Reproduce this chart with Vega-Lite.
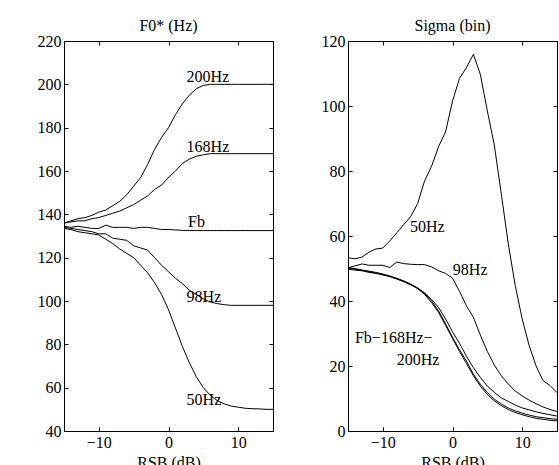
{
  "$schema": "https://vega.github.io/schema/vega-lite/v6.json",
  "background": "white",
  "padding": {"left": 36, "top": 17, "right": 0, "bottom": 0},
  "config": {
    "font": "Liberation Serif",
    "view": {"stroke": "black", "strokeWidth": 1},
    "axis": {"labelFont": "Liberation Serif", "labelFontSize": 16, "labelColor": "black", "titleFont": "Liberation Serif", "titleFontSize": 16, "titleFontWeight": "normal", "titleColor": "black", "domainColor": "black", "tickColor": "black", "grid": false, "tickSize": -4, "labelPadding": 7, "titlePadding": 4},
    "title": {"font": "Liberation Serif", "fontSize": 16, "fontWeight": "normal", "color": "black", "offset": -1},
    "concat": {"spacing": 44}
  },
  "datasets": {
    "f0": [
      {"s":"200Hz","x":-15,"y":136},{"s":"200Hz","x":-14,"y":137},{"s":"200Hz","x":-13,"y":138},{"s":"200Hz","x":-12,"y":138.5},{"s":"200Hz","x":-11,"y":139.5},{"s":"200Hz","x":-10,"y":141},{"s":"200Hz","x":-9,"y":142},{"s":"200Hz","x":-8,"y":144},{"s":"200Hz","x":-7,"y":146},{"s":"200Hz","x":-6,"y":149},{"s":"200Hz","x":-5,"y":153},{"s":"200Hz","x":-4,"y":157},{"s":"200Hz","x":-3,"y":163},{"s":"200Hz","x":-2,"y":170},{"s":"200Hz","x":-1,"y":175.5},{"s":"200Hz","x":0,"y":180},{"s":"200Hz","x":1,"y":186},{"s":"200Hz","x":2,"y":191},{"s":"200Hz","x":3,"y":195},{"s":"200Hz","x":4,"y":198},{"s":"200Hz","x":5,"y":199.5},{"s":"200Hz","x":6,"y":200},{"s":"200Hz","x":7,"y":200},{"s":"200Hz","x":8,"y":200},{"s":"200Hz","x":9,"y":200},{"s":"200Hz","x":10,"y":200},{"s":"200Hz","x":11,"y":200},{"s":"200Hz","x":12,"y":200},{"s":"200Hz","x":13,"y":200},{"s":"200Hz","x":14,"y":200},{"s":"200Hz","x":15,"y":200},
      {"s":"168Hz","x":-15,"y":136},{"s":"168Hz","x":-14,"y":136.5},{"s":"168Hz","x":-13,"y":137},{"s":"168Hz","x":-12,"y":137},{"s":"168Hz","x":-11,"y":138},{"s":"168Hz","x":-10,"y":138.5},{"s":"168Hz","x":-9,"y":139.5},{"s":"168Hz","x":-8,"y":140.5},{"s":"168Hz","x":-7,"y":141.5},{"s":"168Hz","x":-6,"y":143},{"s":"168Hz","x":-5,"y":144.5},{"s":"168Hz","x":-4,"y":146.5},{"s":"168Hz","x":-3,"y":148.5},{"s":"168Hz","x":-2,"y":151.5},{"s":"168Hz","x":-1,"y":153.5},{"s":"168Hz","x":0,"y":157},{"s":"168Hz","x":1,"y":160},{"s":"168Hz","x":2,"y":163.5},{"s":"168Hz","x":3,"y":165.5},{"s":"168Hz","x":4,"y":166.8},{"s":"168Hz","x":5,"y":167.5},{"s":"168Hz","x":6,"y":168},{"s":"168Hz","x":7,"y":168},{"s":"168Hz","x":8,"y":168},{"s":"168Hz","x":9,"y":168},{"s":"168Hz","x":10,"y":168},{"s":"168Hz","x":11,"y":168},{"s":"168Hz","x":12,"y":168},{"s":"168Hz","x":13,"y":168},{"s":"168Hz","x":14,"y":168},{"s":"168Hz","x":15,"y":168},
      {"s":"Fb","x":-15,"y":134.5},{"s":"Fb","x":-14,"y":134},{"s":"Fb","x":-13,"y":134.5},{"s":"Fb","x":-12,"y":134},{"s":"Fb","x":-11,"y":133.5},{"s":"Fb","x":-10,"y":133.5},{"s":"Fb","x":-9,"y":135},{"s":"Fb","x":-8,"y":134},{"s":"Fb","x":-7,"y":134},{"s":"Fb","x":-6,"y":134},{"s":"Fb","x":-5,"y":133.5},{"s":"Fb","x":-4,"y":134},{"s":"Fb","x":-3,"y":134},{"s":"Fb","x":-2,"y":133.5},{"s":"Fb","x":-1,"y":133},{"s":"Fb","x":0,"y":133},{"s":"Fb","x":1,"y":132.8},{"s":"Fb","x":2,"y":132.6},{"s":"Fb","x":3,"y":132.5},{"s":"Fb","x":4,"y":132.5},{"s":"Fb","x":5,"y":132.5},{"s":"Fb","x":6,"y":132.5},{"s":"Fb","x":7,"y":132.5},{"s":"Fb","x":8,"y":132.5},{"s":"Fb","x":9,"y":132.5},{"s":"Fb","x":10,"y":132.5},{"s":"Fb","x":11,"y":132.5},{"s":"Fb","x":12,"y":132.5},{"s":"Fb","x":13,"y":132.5},{"s":"Fb","x":14,"y":132.5},{"s":"Fb","x":15,"y":132.5},
      {"s":"98Hz","x":-15,"y":134},{"s":"98Hz","x":-14,"y":133.5},{"s":"98Hz","x":-13,"y":133},{"s":"98Hz","x":-12,"y":132.5},{"s":"98Hz","x":-11,"y":132},{"s":"98Hz","x":-10,"y":131},{"s":"98Hz","x":-9,"y":131},{"s":"98Hz","x":-8,"y":129},{"s":"98Hz","x":-7,"y":128.5},{"s":"98Hz","x":-6,"y":128},{"s":"98Hz","x":-5,"y":125.5},{"s":"98Hz","x":-4,"y":124.5},{"s":"98Hz","x":-3,"y":123.5},{"s":"98Hz","x":-2,"y":120},{"s":"98Hz","x":-1,"y":116.5},{"s":"98Hz","x":0,"y":113.5},{"s":"98Hz","x":1,"y":110.5},{"s":"98Hz","x":2,"y":108},{"s":"98Hz","x":3,"y":105},{"s":"98Hz","x":4,"y":103},{"s":"98Hz","x":5,"y":101},{"s":"98Hz","x":6,"y":99.5},{"s":"98Hz","x":7,"y":98.8},{"s":"98Hz","x":8,"y":98.3},{"s":"98Hz","x":9,"y":98},{"s":"98Hz","x":10,"y":98},{"s":"98Hz","x":11,"y":98},{"s":"98Hz","x":12,"y":98},{"s":"98Hz","x":13,"y":98},{"s":"98Hz","x":14,"y":98},{"s":"98Hz","x":15,"y":98},
      {"s":"50Hz","x":-15,"y":133.5},{"s":"50Hz","x":-14,"y":133},{"s":"50Hz","x":-13,"y":132},{"s":"50Hz","x":-12,"y":131.5},{"s":"50Hz","x":-11,"y":131},{"s":"50Hz","x":-10,"y":130.5},{"s":"50Hz","x":-9,"y":128.5},{"s":"50Hz","x":-8,"y":126.5},{"s":"50Hz","x":-7,"y":124},{"s":"50Hz","x":-6,"y":122},{"s":"50Hz","x":-5,"y":120},{"s":"50Hz","x":-4,"y":116.5},{"s":"50Hz","x":-3,"y":113},{"s":"50Hz","x":-2,"y":108.5},{"s":"50Hz","x":-1,"y":103},{"s":"50Hz","x":0,"y":96},{"s":"50Hz","x":1,"y":87.5},{"s":"50Hz","x":2,"y":79},{"s":"50Hz","x":3,"y":71.5},{"s":"50Hz","x":4,"y":65},{"s":"50Hz","x":5,"y":60},{"s":"50Hz","x":6,"y":56.5},{"s":"50Hz","x":7,"y":54},{"s":"50Hz","x":8,"y":52.5},{"s":"50Hz","x":9,"y":51.5},{"s":"50Hz","x":10,"y":51},{"s":"50Hz","x":11,"y":50.5},{"s":"50Hz","x":12,"y":50.3},{"s":"50Hz","x":13,"y":50.2},{"s":"50Hz","x":14,"y":50},{"s":"50Hz","x":15,"y":50}
    ],
    "sig": [
      {"s":"50Hz","x":-15,"y":53.3},{"s":"50Hz","x":-14,"y":53},{"s":"50Hz","x":-13,"y":53.5},{"s":"50Hz","x":-12,"y":55},{"s":"50Hz","x":-11,"y":56},{"s":"50Hz","x":-10,"y":56.3},{"s":"50Hz","x":-9,"y":58.5},{"s":"50Hz","x":-8,"y":61},{"s":"50Hz","x":-7,"y":63.5},{"s":"50Hz","x":-6,"y":66},{"s":"50Hz","x":-5,"y":70},{"s":"50Hz","x":-4,"y":77},{"s":"50Hz","x":-3,"y":81.5},{"s":"50Hz","x":-2,"y":87.5},{"s":"50Hz","x":-1,"y":92},{"s":"50Hz","x":0,"y":101.5},{"s":"50Hz","x":1,"y":108.5},{"s":"50Hz","x":2,"y":111.8},{"s":"50Hz","x":3,"y":115.9},{"s":"50Hz","x":4,"y":109.7},{"s":"50Hz","x":5,"y":98.5},{"s":"50Hz","x":6,"y":88},{"s":"50Hz","x":7,"y":73},{"s":"50Hz","x":8,"y":57.7},{"s":"50Hz","x":9,"y":44.8},{"s":"50Hz","x":10,"y":34.5},{"s":"50Hz","x":11,"y":26.3},{"s":"50Hz","x":12,"y":20},{"s":"50Hz","x":13,"y":15.5},{"s":"50Hz","x":14,"y":14},{"s":"50Hz","x":15,"y":11.8},
      {"s":"98Hz","x":-15,"y":50.2},{"s":"98Hz","x":-14,"y":50.8},{"s":"98Hz","x":-13,"y":51.4},{"s":"98Hz","x":-12,"y":51},{"s":"98Hz","x":-11,"y":51},{"s":"98Hz","x":-10,"y":51},{"s":"98Hz","x":-9,"y":50.3},{"s":"98Hz","x":-8,"y":52},{"s":"98Hz","x":-7,"y":51.5},{"s":"98Hz","x":-6,"y":51.3},{"s":"98Hz","x":-5,"y":51.2},{"s":"98Hz","x":-4,"y":51.2},{"s":"98Hz","x":-3,"y":50.5},{"s":"98Hz","x":-2,"y":49.3},{"s":"98Hz","x":-1,"y":48.5},{"s":"98Hz","x":0,"y":47},{"s":"98Hz","x":1,"y":43},{"s":"98Hz","x":2,"y":38.5},{"s":"98Hz","x":3,"y":35},{"s":"98Hz","x":4,"y":29.5},{"s":"98Hz","x":5,"y":24.5},{"s":"98Hz","x":6,"y":20.3},{"s":"98Hz","x":7,"y":17},{"s":"98Hz","x":8,"y":14.5},{"s":"98Hz","x":9,"y":12.3},{"s":"98Hz","x":10,"y":10.8},{"s":"98Hz","x":11,"y":9.5},{"s":"98Hz","x":12,"y":8.4},{"s":"98Hz","x":13,"y":7.4},{"s":"98Hz","x":14,"y":6.6},{"s":"98Hz","x":15,"y":6},
      {"s":"Fb","x":-15,"y":50},{"s":"Fb","x":-14,"y":49.8},{"s":"Fb","x":-13,"y":49.5},{"s":"Fb","x":-12,"y":49},{"s":"Fb","x":-11,"y":48.6},{"s":"Fb","x":-10,"y":48.2},{"s":"Fb","x":-9,"y":47.6},{"s":"Fb","x":-8,"y":46.8},{"s":"Fb","x":-7,"y":46},{"s":"Fb","x":-6,"y":45},{"s":"Fb","x":-5,"y":44},{"s":"Fb","x":-4,"y":42.5},{"s":"Fb","x":-3,"y":40.5},{"s":"Fb","x":-2,"y":38},{"s":"Fb","x":-1,"y":34.5},{"s":"Fb","x":0,"y":30.5},{"s":"Fb","x":1,"y":27},{"s":"Fb","x":2,"y":23},{"s":"Fb","x":3,"y":19.5},{"s":"Fb","x":4,"y":16.5},{"s":"Fb","x":5,"y":13.8},{"s":"Fb","x":6,"y":11.9},{"s":"Fb","x":7,"y":10.2},{"s":"Fb","x":8,"y":9.1},{"s":"Fb","x":9,"y":8},{"s":"Fb","x":10,"y":7.1},{"s":"Fb","x":11,"y":6.5},{"s":"Fb","x":12,"y":5.9},{"s":"Fb","x":13,"y":5.4},{"s":"Fb","x":14,"y":5},{"s":"Fb","x":15,"y":4.6},
      {"s":"168Hz","x":-15,"y":50.3},{"s":"168Hz","x":-14,"y":50},{"s":"168Hz","x":-13,"y":49.5},{"s":"168Hz","x":-12,"y":49.2},{"s":"168Hz","x":-11,"y":48.8},{"s":"168Hz","x":-10,"y":48.3},{"s":"168Hz","x":-9,"y":47.7},{"s":"168Hz","x":-8,"y":47},{"s":"168Hz","x":-7,"y":46.2},{"s":"168Hz","x":-6,"y":45.2},{"s":"168Hz","x":-5,"y":44},{"s":"168Hz","x":-4,"y":42.3},{"s":"168Hz","x":-3,"y":40},{"s":"168Hz","x":-2,"y":37},{"s":"168Hz","x":-1,"y":33},{"s":"168Hz","x":0,"y":28.8},{"s":"168Hz","x":1,"y":25},{"s":"168Hz","x":2,"y":21.5},{"s":"168Hz","x":3,"y":17.5},{"s":"168Hz","x":4,"y":14.4},{"s":"168Hz","x":5,"y":11.8},{"s":"168Hz","x":6,"y":9.8},{"s":"168Hz","x":7,"y":8.3},{"s":"168Hz","x":8,"y":7.1},{"s":"168Hz","x":9,"y":6.2},{"s":"168Hz","x":10,"y":5.5},{"s":"168Hz","x":11,"y":4.9},{"s":"168Hz","x":12,"y":4.4},{"s":"168Hz","x":13,"y":4.1},{"s":"168Hz","x":14,"y":3.8},{"s":"168Hz","x":15,"y":3.6},
      {"s":"200Hz","x":-15,"y":49.8},{"s":"200Hz","x":-14,"y":49.5},{"s":"200Hz","x":-13,"y":49.3},{"s":"200Hz","x":-12,"y":48.8},{"s":"200Hz","x":-11,"y":48.5},{"s":"200Hz","x":-10,"y":48},{"s":"200Hz","x":-9,"y":47.5},{"s":"200Hz","x":-8,"y":46.8},{"s":"200Hz","x":-7,"y":46},{"s":"200Hz","x":-6,"y":45},{"s":"200Hz","x":-5,"y":43.8},{"s":"200Hz","x":-4,"y":42},{"s":"200Hz","x":-3,"y":39.5},{"s":"200Hz","x":-2,"y":36.5},{"s":"200Hz","x":-1,"y":32.5},{"s":"200Hz","x":0,"y":28.5},{"s":"200Hz","x":1,"y":24.5},{"s":"200Hz","x":2,"y":20.8},{"s":"200Hz","x":3,"y":17},{"s":"200Hz","x":4,"y":13.8},{"s":"200Hz","x":5,"y":11.2},{"s":"200Hz","x":6,"y":9.3},{"s":"200Hz","x":7,"y":7.8},{"s":"200Hz","x":8,"y":6.6},{"s":"200Hz","x":9,"y":5.7},{"s":"200Hz","x":10,"y":5},{"s":"200Hz","x":11,"y":4.4},{"s":"200Hz","x":12,"y":3.9},{"s":"200Hz","x":13,"y":3.6},{"s":"200Hz","x":14,"y":3.3},{"s":"200Hz","x":15,"y":3.1}
    ],
    "f0lab": [
      {"t":"200Hz","x":2.6,"y":203.4},{"t":"168Hz","x":2.6,"y":171.1},{"t":"Fb","x":2.8,"y":136.5},{"t":"98Hz","x":2.6,"y":101.7},{"t":"50Hz","x":2.6,"y":54.3}
    ],
    "siglab": [
      {"t":"50Hz","x":-6.1,"y":62.9},{"t":"98Hz","x":0.05,"y":49.4},{"t":"Fb−168Hz−","x":-14,"y":28.7},{"t":"200Hz","x":-8,"y":21.9}
    ]
  },
  "hconcat": [
    {
      "width": 209, "height": 390,
      "title": "F0* (Hz)",
      "layer": [
        {
          "data": {"name": "f0"},
          "mark": {"type": "line", "color": "black", "strokeWidth": 1},
          "encoding": {
            "x": {"field": "x", "type": "quantitative", "scale": {"domain": [-15, 15], "nice": false}, "axis": {"orient": "bottom", "values": [-10, 0, 10], "title": "RSB (dB)"}},
            "y": {"field": "y", "type": "quantitative", "scale": {"domain": [40, 220], "nice": false}, "axis": {"orient": "left", "values": [40, 60, 80, 100, 120, 140, 160, 180, 200, 220], "title": null}},
            "detail": {"field": "s"}
          }
        },
        {
          "data": {"name": "f0"},
          "mark": {"type": "line", "opacity": 0},
          "encoding": {
            "x": {"field": "x", "type": "quantitative", "axis": {"orient": "top", "values": [-10, 0, 10], "labels": false, "title": null}},
            "y": {"field": "y", "type": "quantitative", "axis": {"orient": "right", "values": [40, 60, 80, 100, 120, 140, 160, 180, 200, 220], "labels": false, "title": null}},
            "detail": {"field": "s"}
          }
        },
        {
          "data": {"name": "f0lab"},
          "mark": {"type": "text", "align": "left", "baseline": "middle", "font": "Liberation Serif", "fontSize": 16, "color": "black"},
          "encoding": {
            "x": {"field": "x", "type": "quantitative", "axis": null},
            "y": {"field": "y", "type": "quantitative", "axis": null},
            "text": {"field": "t"}
          }
        }
      ],
      "resolve": {"axis": {"x": "independent", "y": "independent"}}
    },
    {
      "width": 209, "height": 390,
      "title": "Sigma (bin)",
      "layer": [
        {
          "data": {"name": "sig"},
          "mark": {"type": "line", "color": "black", "strokeWidth": 1},
          "encoding": {
            "x": {"field": "x", "type": "quantitative", "scale": {"domain": [-15, 15], "nice": false}, "axis": {"orient": "bottom", "values": [-10, 0, 10], "title": "RSB (dB)"}},
            "y": {"field": "y", "type": "quantitative", "scale": {"domain": [0, 120], "nice": false}, "axis": {"orient": "left", "values": [0, 20, 40, 60, 80, 100, 120], "title": null}},
            "detail": {"field": "s"}
          }
        },
        {
          "data": {"name": "sig"},
          "mark": {"type": "line", "opacity": 0},
          "encoding": {
            "x": {"field": "x", "type": "quantitative", "axis": {"orient": "top", "values": [-10, 0, 10], "labels": false, "title": null}},
            "y": {"field": "y", "type": "quantitative", "axis": {"orient": "right", "values": [0, 20, 40, 60, 80, 100, 120], "labels": false, "title": null}},
            "detail": {"field": "s"}
          }
        },
        {
          "data": {"name": "siglab"},
          "mark": {"type": "text", "align": "left", "baseline": "middle", "font": "Liberation Serif", "fontSize": 16, "color": "black"},
          "encoding": {
            "x": {"field": "x", "type": "quantitative", "axis": null},
            "y": {"field": "y", "type": "quantitative", "axis": null},
            "text": {"field": "t"}
          }
        }
      ],
      "resolve": {"axis": {"x": "independent", "y": "independent"}}
    }
  ]
}
